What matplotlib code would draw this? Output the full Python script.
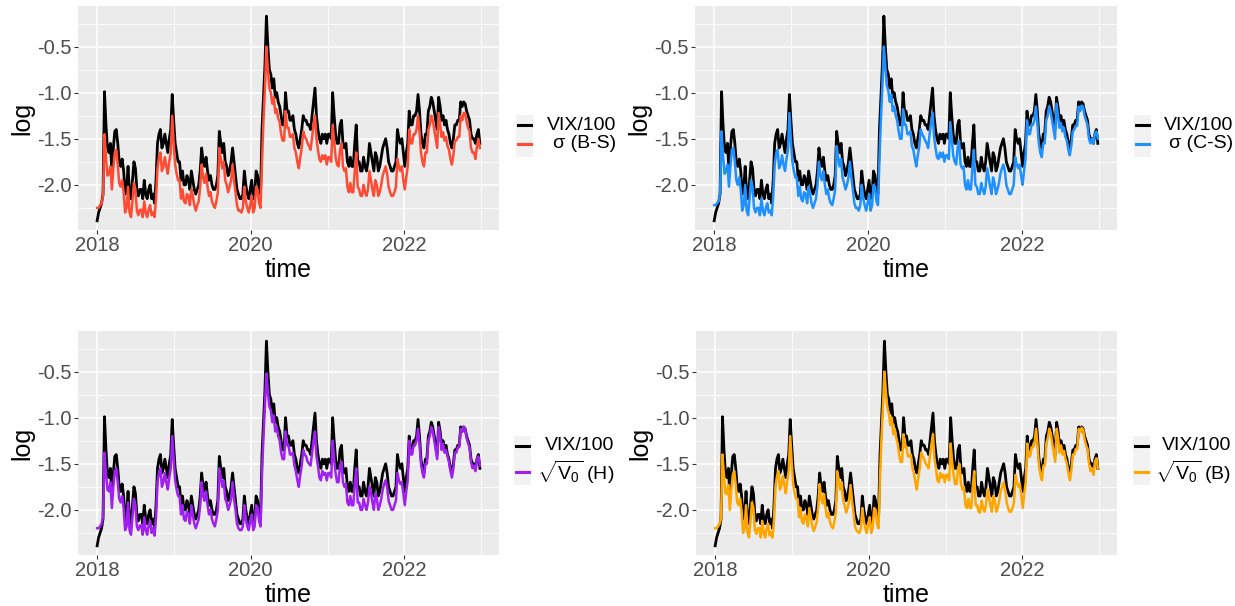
import matplotlib
matplotlib.use("Agg")
import matplotlib.pyplot as plt
import matplotlib.dates as mdates
from matplotlib.lines import Line2D
from matplotlib.patches import Rectangle
from matplotlib.ticker import MultipleLocator, FormatStrFormatter
import pandas as pd

plt.rcParams["font.family"] = ["Liberation Sans", "DejaVu Sans"]
plt.rcParams["axes.unicode_minus"] = False
plt.rcParams["mathtext.fontset"] = "custom"
plt.rcParams["mathtext.rm"] = "Liberation Sans"
plt.rcParams["mathtext.it"] = "Liberation Sans:italic"
plt.rcParams["mathtext.bf"] = "Liberation Sans:bold"

# weekly samples, 2018-01-01 .. 2022-12-26, log values
time = pd.date_range("2018-01-01", periods=261, freq="7D")

vix = [
    # 2018
    -2.39, -2.30, -2.25, -2.20, -2.10, -0.99, -1.35, -1.60, -1.65, -1.55, -1.85, -1.60, -1.42,
    -1.40, -1.55, -1.75, -1.80, -1.72, -1.85, -2.10, -2.05, -1.80, -2.10, -2.15, -1.95, -1.75,
    -1.82, -2.05, -2.12, -2.05, -2.05, -2.15, -1.95, -2.10, -2.15, -2.05, -2.00, -2.15, -2.10,
    -2.20, -1.95, -1.55, -1.45, -1.40, -1.60, -1.55, -1.45, -1.55, -1.65, -1.50, -1.40, -1.02,
    # 2019
    -1.30, -1.55, -1.65, -1.75, -1.75, -1.95, -1.85, -2.00, -2.00, -1.90, -1.95, -2.05, -1.85,
    -1.95, -2.05, -2.10, -2.05, -2.00, -1.85, -1.60, -1.75, -1.80, -1.70, -1.85, -1.95, -1.90,
    -2.00, -2.05, -2.05, -2.00, -1.90, -1.42, -1.55, -1.65, -1.55, -1.75, -1.80, -1.90, -1.85,
    -1.75, -1.60, -1.75, -1.90, -2.05, -2.10, -2.15, -2.15, -2.10, -1.85, -2.00, -2.10, -2.15,
    # 2020
    -2.05, -1.95, -2.15, -2.10, -1.85, -1.90, -2.05, -2.10, -1.40, -1.05, -0.70, -0.17, -0.50,
    -0.75, -0.80, -0.95, -0.85, -1.05, -1.00, -1.10, -1.15, -1.25, -1.35, -1.35, -1.00, -1.20,
    -1.20, -1.30, -1.30, -1.25, -1.40, -1.45, -1.55, -1.60, -1.50, -1.40, -1.25, -1.30, -1.30,
    -1.35, -1.35, -1.40, -1.25, -1.10, -0.95, -1.25, -1.40, -1.50, -1.55, -1.45, -1.50, -1.45,
    # 2021
    -1.55, -1.45, -1.45, -1.50, -1.00, -1.25, -1.45, -1.55, -1.55, -1.35, -1.30, -1.55, -1.60,
    -1.55, -1.75, -1.80, -1.70, -1.80, -1.80, -1.55, -1.35, -1.75, -1.75, -1.85, -1.85, -1.70,
    -1.80, -1.85, -1.75, -1.55, -1.65, -1.75, -1.85, -1.65, -1.70, -1.85, -1.80, -1.70, -1.60,
    -1.55, -1.50, -1.60, -1.75, -1.80, -1.85, -1.85, -1.80, -1.75, -1.40, -1.50, -1.55, -1.50,
    # 2022
    -1.65, -1.80, -1.65, -1.55, -1.20, -1.35, -1.35, -1.25, -1.25, -1.20, -1.02, -1.20, -1.45,
    -1.55, -1.60, -1.45, -1.45, -1.20, -1.15, -1.05, -1.10, -1.20, -1.30, -1.40, -1.05, -1.15,
    -1.30, -1.25, -1.35, -1.30, -1.40, -1.45, -1.55, -1.60, -1.50, -1.35, -1.35, -1.30, -1.30,
    -1.10, -1.15, -1.10, -1.12, -1.20, -1.25, -1.30, -1.45, -1.50, -1.50, -1.55, -1.45, -1.40, -1.55,
]

sigma_bs = [
    -2.25, -2.25, -2.22, -2.20, -2.12, -1.45, -1.70, -1.90, -1.88, -1.80, -2.05, -1.82, -1.65,
    -1.62, -1.78, -1.98, -2.02, -1.95, -2.08, -2.30, -2.25, -2.02, -2.30, -2.35, -2.18, -1.98,
    -2.05, -2.28, -2.33, -2.27, -2.27, -2.35, -2.18, -2.30, -2.35, -2.27, -2.22, -2.33, -2.30,
    -2.35, -2.15, -1.82, -1.70, -1.65, -1.85, -1.80, -1.70, -1.80, -1.88, -1.75, -1.65, -1.25,
    -1.55, -1.78, -1.88, -1.95, -1.95, -2.15, -2.05, -2.18, -2.20, -2.10, -2.12, -2.22, -2.05,
    -2.12, -2.22, -2.28, -2.22, -2.18, -2.02, -1.78, -1.92, -1.98, -1.88, -2.02, -2.12, -2.08,
    -2.18, -2.22, -2.25, -2.18, -2.08, -1.60, -1.72, -1.82, -1.75, -1.95, -2.00, -2.08, -2.02,
    -1.95, -1.78, -1.95, -2.08, -2.22, -2.28, -2.28, -2.30, -2.25, -2.02, -2.18, -2.25, -2.30,
    -2.22, -2.12, -2.30, -2.25, -2.02, -2.05, -2.20, -2.25, -1.75, -1.30, -0.95, -0.50, -0.75,
    -0.95, -1.00, -1.12, -1.05, -1.22, -1.18, -1.28, -1.32, -1.45, -1.52, -1.52, -1.20, -1.38,
    -1.38, -1.48, -1.48, -1.45, -1.60, -1.65, -1.75, -1.82, -1.70, -1.60, -1.42, -1.48, -1.50,
    -1.55, -1.58, -1.62, -1.48, -1.35, -1.25, -1.50, -1.62, -1.72, -1.75, -1.68, -1.72, -1.68,
    -1.78, -1.70, -1.70, -1.75, -1.35, -1.52, -1.70, -1.78, -1.80, -1.62, -1.55, -1.80, -1.85,
    -1.82, -2.02, -2.08, -1.98, -2.08, -2.08, -1.85, -1.65, -2.02, -2.05, -2.12, -2.12, -2.00,
    -2.08, -2.12, -2.05, -1.85, -1.95, -2.05, -2.12, -1.95, -2.00, -2.12, -2.08, -2.00, -1.90,
    -1.85, -1.80, -1.88, -2.02, -2.08, -2.12, -2.12, -2.08, -2.02, -1.72, -1.80, -1.85, -1.80,
    -1.95, -2.05, -1.92, -1.80, -1.40, -1.55, -1.55, -1.45, -1.45, -1.40, -1.25, -1.42, -1.65,
    -1.75, -1.80, -1.65, -1.65, -1.40, -1.35, -1.25, -1.30, -1.40, -1.50, -1.60, -1.22, -1.35,
    -1.48, -1.43, -1.52, -1.48, -1.58, -1.62, -1.72, -1.78, -1.68, -1.52, -1.52, -1.48, -1.48,
    -1.25, -1.30, -1.22, -1.22, -1.32, -1.38, -1.42, -1.60, -1.65, -1.65, -1.72, -1.58, -1.50, -1.60,
]

sigma_cs = [
    -2.22, -2.22, -2.20, -2.18, -2.10, -1.42, -1.68, -1.88, -1.85, -1.78, -2.02, -1.80, -1.62,
    -1.60, -1.75, -1.95, -2.00, -1.92, -2.05, -2.28, -2.22, -2.00, -2.28, -2.33, -2.15, -1.95,
    -2.02, -2.25, -2.30, -2.25, -2.25, -2.33, -2.15, -2.28, -2.33, -2.25, -2.20, -2.30, -2.28,
    -2.33, -2.12, -1.78, -1.66, -1.62, -1.82, -1.78, -1.68, -1.78, -1.85, -1.72, -1.62, -1.22,
    -1.52, -1.75, -1.85, -1.92, -1.92, -2.12, -2.02, -2.15, -2.18, -2.08, -2.10, -2.20, -2.02,
    -2.10, -2.20, -2.25, -2.20, -2.15, -2.00, -1.75, -1.90, -1.95, -1.85, -2.00, -2.10, -2.05,
    -2.15, -2.20, -2.22, -2.15, -2.05, -1.58, -1.70, -1.80, -1.72, -1.92, -1.98, -2.05, -2.00,
    -1.92, -1.75, -1.92, -2.05, -2.20, -2.25, -2.25, -2.28, -2.22, -2.00, -2.15, -2.22, -2.28,
    -2.20, -2.10, -2.28, -2.22, -2.00, -2.02, -2.18, -2.22, -1.72, -1.28, -0.92, -0.50, -0.72,
    -0.92, -0.98, -1.10, -1.02, -1.20, -1.15, -1.25, -1.30, -1.42, -1.50, -1.50, -1.18, -1.35,
    -1.35, -1.45, -1.45, -1.42, -1.58, -1.62, -1.72, -1.80, -1.68, -1.58, -1.40, -1.45, -1.48,
    -1.52, -1.55, -1.60, -1.45, -1.32, -1.22, -1.48, -1.60, -1.70, -1.72, -1.65, -1.70, -1.65,
    -1.75, -1.68, -1.68, -1.72, -1.32, -1.50, -1.68, -1.75, -1.78, -1.60, -1.52, -1.78, -1.82,
    -1.80, -2.00, -2.05, -1.95, -2.05, -2.05, -1.82, -1.62, -2.00, -2.02, -2.10, -2.10, -1.98,
    -2.05, -2.10, -2.02, -1.82, -1.92, -2.02, -2.10, -1.92, -1.98, -2.10, -2.05, -1.98, -1.88,
    -1.82, -1.78, -1.85, -2.00, -2.05, -2.10, -2.10, -2.05, -2.00, -1.70, -1.78, -1.82, -1.78,
    -1.90, -2.00, -1.85, -1.72, -1.30, -1.45, -1.45, -1.35, -1.35, -1.30, -1.15, -1.32, -1.55,
    -1.65, -1.70, -1.55, -1.55, -1.30, -1.25, -1.15, -1.20, -1.30, -1.40, -1.50, -1.12, -1.25,
    -1.38, -1.33, -1.42, -1.38, -1.48, -1.52, -1.62, -1.68, -1.58, -1.42, -1.40, -1.36, -1.36,
    -1.15, -1.20, -1.14, -1.15, -1.25, -1.30, -1.35, -1.50, -1.55, -1.50, -1.55, -1.45, -1.42, -1.50,
]

sqrt_v0_h = [
    -2.20, -2.20, -2.18, -2.15, -2.08, -1.38, -1.60, -1.78, -1.80, -1.70, -1.98, -1.75, -1.58,
    -1.55, -1.70, -1.88, -1.92, -1.85, -1.98, -2.22, -2.18, -1.92, -2.22, -2.27, -2.08, -1.88,
    -1.95, -2.18, -2.22, -2.17, -2.17, -2.27, -2.08, -2.22, -2.27, -2.17, -2.12, -2.25, -2.20,
    -2.28, -2.08, -1.70, -1.60, -1.55, -1.75, -1.70, -1.60, -1.70, -1.78, -1.65, -1.55, -1.20,
    -1.45, -1.68, -1.78, -1.85, -1.85, -2.05, -1.95, -2.10, -2.12, -2.02, -2.05, -2.15, -1.95,
    -2.05, -2.15, -2.20, -2.15, -2.10, -1.95, -1.70, -1.85, -1.90, -1.80, -1.95, -2.05, -2.00,
    -2.10, -2.15, -2.18, -2.10, -2.00, -1.55, -1.65, -1.75, -1.68, -1.88, -1.92, -2.00, -1.95,
    -1.88, -1.70, -1.88, -2.00, -2.15, -2.20, -2.22, -2.22, -2.18, -1.95, -2.10, -2.18, -2.22,
    -2.12, -2.05, -2.22, -2.18, -1.95, -1.98, -2.12, -2.18, -1.60, -1.20, -0.85, -0.52, -0.72,
    -0.88, -0.92, -1.05, -0.98, -1.15, -1.10, -1.20, -1.25, -1.38, -1.45, -1.45, -1.15, -1.30,
    -1.30, -1.40, -1.40, -1.38, -1.52, -1.58, -1.68, -1.75, -1.62, -1.52, -1.35, -1.40, -1.42,
    -1.48, -1.50, -1.52, -1.38, -1.25, -1.15, -1.42, -1.52, -1.65, -1.68, -1.58, -1.62, -1.60,
    -1.68, -1.60, -1.60, -1.65, -1.25, -1.45, -1.60, -1.70, -1.70, -1.52, -1.48, -1.70, -1.75,
    -1.72, -1.92, -1.95, -1.85, -1.95, -1.95, -1.72, -1.55, -1.92, -1.92, -2.00, -2.00, -1.88,
    -1.95, -2.00, -1.92, -1.75, -1.82, -1.92, -2.00, -1.82, -1.88, -2.00, -1.95, -1.88, -1.78,
    -1.72, -1.68, -1.75, -1.90, -1.95, -2.00, -2.00, -1.95, -1.90, -1.60, -1.68, -1.72, -1.70,
    -1.82, -1.95, -1.80, -1.68, -1.25, -1.40, -1.40, -1.30, -1.30, -1.25, -1.12, -1.28, -1.50,
    -1.60, -1.65, -1.50, -1.50, -1.25, -1.20, -1.10, -1.15, -1.25, -1.35, -1.45, -1.10, -1.20,
    -1.35, -1.28, -1.38, -1.35, -1.42, -1.48, -1.58, -1.65, -1.55, -1.38, -1.38, -1.32, -1.32,
    -1.12, -1.15, -1.10, -1.12, -1.22, -1.28, -1.32, -1.48, -1.55, -1.52, -1.58, -1.45, -1.42, -1.52,
]

sqrt_v0_b = [
    -2.20, -2.20, -2.18, -2.15, -2.10, -1.40, -1.63, -1.82, -1.83, -1.73, -2.00, -1.78, -1.62,
    -1.58, -1.73, -1.92, -1.95, -1.88, -2.02, -2.25, -2.20, -1.95, -2.25, -2.30, -2.12, -1.92,
    -1.98, -2.22, -2.26, -2.20, -2.20, -2.30, -2.12, -2.25, -2.30, -2.20, -2.15, -2.28, -2.24,
    -2.30, -2.10, -1.74, -1.64, -1.58, -1.78, -1.73, -1.63, -1.73, -1.82, -1.68, -1.58, -1.20,
    -1.48, -1.72, -1.82, -1.88, -1.88, -2.08, -1.98, -2.13, -2.15, -2.05, -2.08, -2.18, -1.98,
    -2.08, -2.18, -2.23, -2.18, -2.13, -1.98, -1.72, -1.88, -1.93, -1.83, -1.98, -2.08, -2.03,
    -2.13, -2.18, -2.20, -2.13, -2.03, -1.58, -1.68, -1.78, -1.70, -1.90, -1.95, -2.03, -1.98,
    -1.90, -1.73, -1.90, -2.03, -2.18, -2.22, -2.24, -2.25, -2.20, -1.98, -2.12, -2.20, -2.25,
    -2.15, -2.08, -2.25, -2.20, -1.98, -2.00, -2.15, -2.20, -1.65, -1.22, -0.88, -0.50, -0.72,
    -0.90, -0.95, -1.08, -1.00, -1.18, -1.12, -1.22, -1.28, -1.40, -1.48, -1.48, -1.18, -1.32,
    -1.32, -1.42, -1.42, -1.40, -1.55, -1.60, -1.70, -1.78, -1.65, -1.55, -1.38, -1.42, -1.45,
    -1.50, -1.52, -1.55, -1.40, -1.28, -1.18, -1.45, -1.55, -1.68, -1.70, -1.60, -1.65, -1.62,
    -1.70, -1.62, -1.62, -1.68, -1.28, -1.48, -1.62, -1.72, -1.72, -1.55, -1.50, -1.72, -1.78,
    -1.75, -1.95, -1.98, -1.88, -1.98, -1.98, -1.75, -1.58, -1.95, -1.95, -2.02, -2.03, -1.90,
    -1.98, -2.02, -1.95, -1.78, -1.85, -1.95, -2.02, -1.85, -1.90, -2.02, -1.98, -1.90, -1.80,
    -1.75, -1.70, -1.78, -1.92, -1.98, -2.02, -2.02, -1.98, -1.92, -1.62, -1.70, -1.75, -1.72,
    -1.85, -1.98, -1.82, -1.70, -1.28, -1.42, -1.42, -1.32, -1.32, -1.28, -1.12, -1.30, -1.52,
    -1.62, -1.68, -1.52, -1.52, -1.28, -1.22, -1.12, -1.17, -1.28, -1.38, -1.48, -1.12, -1.22,
    -1.38, -1.30, -1.40, -1.36, -1.45, -1.50, -1.60, -1.68, -1.57, -1.40, -1.40, -1.34, -1.34,
    -1.12, -1.16, -1.11, -1.13, -1.24, -1.30, -1.34, -1.50, -1.58, -1.55, -1.62, -1.48, -1.44, -1.55,
]

labels = ["σ (B-S)", "σ (C-S)", r"$\sqrt{\mathrm{V}_0}$ (H)", r"$\sqrt{\mathrm{V}_0}$ (B)"]
models = [sigma_bs, sigma_cs, sqrt_v0_h, sqrt_v0_b]
colors = ["#FF4B33", "#1E90FF", "#A020F0", "#FFA500"]

W, H = 1235, 606
fig = plt.figure(figsize=(W / 100, H / 100), dpi=100)


def box(left, top, right, bottom):
    return [left / W, 1 - bottom / H, (right - left) / W, (bottom - top) / H]


panel_px = [(78, 6, 499, 230), (695, 6, 1117, 230), (78, 331, 499, 555), (696, 331, 1117, 555)]
# key box (left, top, bottom), key line ys, text right edge
legend_px = [
    (516, 115, 157, 125, 144, 616),
    (1134, 115, 157, 125, 144, 1233),
    (514, 436, 485, 446, 472, 614),
    (1133, 436, 485, 446, 472, 1231),
]

for i in range(4):
    ax = fig.add_axes(box(*panel_px[i]))
    ax.set_facecolor("#EBEBEB")
    ax.plot(time, vix, color="black", lw=2.0, zorder=3)
    ax.plot(time, models[i], color=colors[i], lw=1.8, zorder=4)
    ax.margins(x=0.05)
    ax.set_ylim(-2.49, -0.06)

    ax.xaxis.set_major_locator(mdates.YearLocator(2))
    ax.xaxis.set_minor_locator(mdates.YearLocator(1))
    ax.xaxis.set_major_formatter(mdates.DateFormatter("%Y"))
    ax.yaxis.set_major_locator(MultipleLocator(0.5))
    ax.yaxis.set_minor_locator(MultipleLocator(0.25))
    ax.yaxis.set_major_formatter(FormatStrFormatter("%.1f"))

    ax.grid(which="major", color="white", lw=1.1, zorder=0)
    ax.grid(which="minor", color="white", lw=0.55, zorder=0)
    ax.set_axisbelow(True)
    for s in ax.spines.values():
        s.set_visible(False)
    ax.tick_params(which="major", length=2.75, width=0.8, color="#333333",
                   labelsize=14.5, labelcolor="#4D4D4D", pad=1.5)
    ax.tick_params(which="minor", length=0)
    ax.set_xlabel("time", fontsize=18, labelpad=2)
    ax.set_ylabel("log", fontsize=18, labelpad=2)

    kx, ktop, kbot, y1, y2, tx = legend_px[i]
    fig.add_artist(Rectangle((kx / W, 1 - kbot / H), 17 / W, (kbot - ktop) / H,
                             transform=fig.transFigure, facecolor="#F2F2F2", edgecolor="none"))
    for yy, c in [(y1, "black"), (y2, colors[i])]:
        fig.add_artist(Line2D([(kx + 2) / W, (kx + 15) / W], [1 - yy / H, 1 - yy / H],
                              transform=fig.transFigure, color=c, lw=2.2))
    fig.text(tx / W, 1 - y1 / H, "VIX/100", ha="right", va="center", fontsize=14)
    fig.text(tx / W, 1 - y2 / H, labels[i], ha="right", va="center", fontsize=14)

fig.savefig("out.png", dpi=100)
